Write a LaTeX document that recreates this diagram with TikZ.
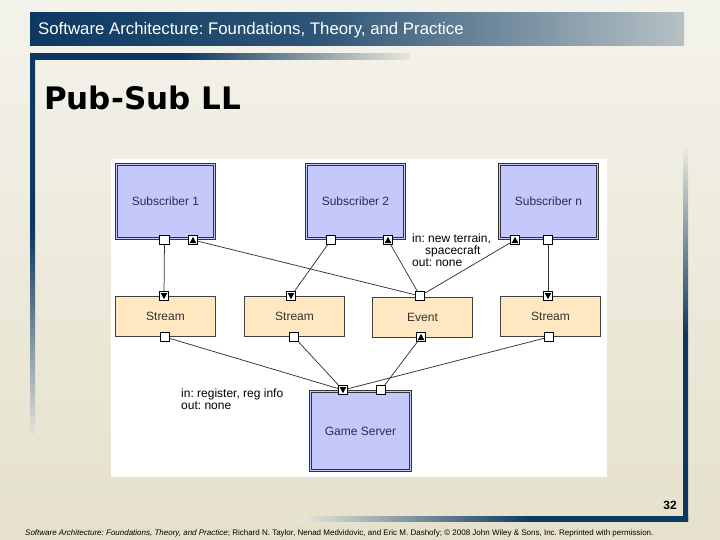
\documentclass[tikz,border=0pt]{standalone}
\usepackage{fontspec}
\setmainfont{Liberation Sans}
\newfontfamily\titlefont{DejaVu Sans}
\frenchspacing

\definecolor{cream}{HTML}{F4F3EB}
\definecolor{sand}{HTML}{E5E1CC}
\definecolor{navy}{HTML}{0D3861}
\definecolor{steel}{HTML}{B6C1C5}
\definecolor{headmid}{HTML}{2E5577}
\definecolor{barfade}{HTML}{E9E7DA}
\definecolor{compblue}{HTML}{C5C8FA}
\definecolor{connpeach}{HTML}{FEE7C1}
\definecolor{inkblue}{HTML}{2B2C52}
\definecolor{wirecol}{HTML}{333333}

% shadings: pgf maps 25bp..75bp onto the shaded path
\pgfdeclarehorizontalshading{headerbar}{100bp}{color(0bp)=(navy); color(25bp)=(navy); color(47bp)=(headmid); color(75bp)=(steel); color(100bp)=(steel)}
\pgfdeclarehorizontalshading{fadeleft}{100bp}{color(0bp)=(navy); color(45bp)=(navy); color(75bp)=(barfade); color(100bp)=(barfade)}
\pgfdeclarehorizontalshading{faderight}{100bp}{color(0bp)=(barfade); color(25bp)=(barfade); color(55bp)=(navy); color(100bp)=(navy)}
\pgfdeclareverticalshading{fadedown}{100bp}{color(0bp)=(navy); color(50bp)=(navy); color(75bp)=(barfade); color(100bp)=(barfade)}
\pgfdeclareverticalshading{fadeup}{100bp}{color(0bp)=(barfade); color(25bp)=(barfade); color(52bp)=(navy); color(100bp)=(navy)}

\begin{document}
\begin{tikzpicture}[x=1pt, y=-1pt,
  comp/.style={rectangle, draw=black!80, fill=compblue, double=compblue,
    double distance=1.6pt, line width=0.8pt, minimum width=98pt,
    minimum height=74pt, text=inkblue, font=\fontsize{12}{12}\selectfont},
  conn/.style={rectangle, draw=black!75, fill=connpeach, line width=0.6pt,
    minimum width=100pt, minimum height=40pt, text=black!80,
    font=\fontsize{12}{12}\selectfont},
  port/.style={rectangle, draw=black, fill=white, line width=0.6pt,
    minimum size=9.5pt, inner sep=0pt},
  upport/.style={port, path picture={\fill[black, shift={(path picture bounding box.center)}]
    (-3.3pt,-3pt) -- (3.3pt,-3pt) -- (0pt,3.2pt) -- cycle;}},
  downport/.style={port, path picture={\fill[black, shift={(path picture bounding box.center)}]
    (-3.3pt,3pt) -- (3.3pt,3pt) -- (0pt,-3.2pt) -- cycle;}},
  wire/.style={draw=wirecol, line width=0.75pt},
  note/.style={align=left, inner sep=0pt, font=\fontsize{12}{12}\selectfont}]
\useasboundingbox (0,0) rectangle (720,540);

% slide background
\shade[top color=cream, bottom color=sand] (0,0) rectangle (720,540);

% header and frame bars
\shade[shading=headerbar] (30,13) rectangle (684,46);
\node[anchor=base west, inner sep=0pt, text=white, font=\fontsize{16.8}{17}\selectfont] (header) at (38,35)
  {Software Architecture: Foundations, Theory, and Practice};
\shade[shading=fadeleft] (30,54) rectangle (410,60);
\shade[shading=fadeup] (30,54) rectangle (35,440);
\shade[shading=fadedown] (683,150) rectangle (688,521);
\shade[shading=faderight] (300,516) rectangle (688,521);

% title
\node[anchor=base west, inner sep=0pt, font=\titlefont\bfseries\fontsize{31}{31}\selectfont]
  (title) at (44,110) {Pub-Sub LL};

% diagram panel
\fill[white] (111,159) rectangle (607,477);

% components
\node[comp] (sub1) at (165.5,201.5) {Subscriber 1};
\node[comp] (sub2) at (355.5,201.5) {Subscriber 2};
\node[comp] (subn) at (548.5,201.5) {Subscriber n};
\node[comp, minimum width=100pt, minimum height=79pt] (server) at (360.5,431) {Game Server};

% connectors
\node[conn] (st1) at (165.5,316.5) {Stream};
\node[conn] (st2) at (294.5,316.5) {Stream};
\node[conn] (event) at (422.5,317) {Event};
\node[conn] (st4) at (550.5,316.5) {Stream};

% ports
\node[port] (s1out) at (164.5,240) {};
\node[upport] (s1pub) at (193,240) {};
\node[port] (s2out) at (331,240) {};
\node[upport] (s2pub) at (388,240) {};
\node[upport] (snpub) at (515,240) {};
\node[port] (snout) at (548,240) {};
\node[downport] (st1in) at (164,296) {};
\node[port] (st1out) at (165,337) {};
\node[downport] (st2in) at (291,296) {};
\node[port] (st2out) at (294,337) {};
\node[port] (evin) at (420,296) {};
\node[upport] (evout) at (421,337) {};
\node[downport] (st4in) at (548,296) {};
\node[port] (st4out) at (549,337) {};
\node[downport] (gsin) at (343,390) {};
\node[port] (gsev) at (381,390) {};

% links
\draw[wire] (s1out) -- (st1in);
\draw[wire] (s1pub) -- (evin);
\draw[wire] (s2out) -- (st2in);
\draw[wire] (s2pub) -- (evin);
\draw[wire] (snpub) -- (evin);
\draw[wire] (snout) -- (st4in);
\draw[wire] (st1out) -- (gsin);
\draw[wire] (st2out) -- (gsin);
\draw[wire] (st4out) -- (gsin);
\draw[wire] (evout) -- (gsev);

% interface notes
\node[note, anchor=north west] (evnote) at (412,234)
  {in: new terrain,\\\hspace*{13pt}spacecraft\\out: none};
\node[note, anchor=north west] (gsnote) at (181,389)
  {in: register, reg info\\out: none};

% page number and credit
\node[anchor=base east, inner sep=0pt, font=\bfseries\fontsize{12}{12}\selectfont]
  (pagenum) at (677,509) {32};
\node[anchor=base west, inner sep=0pt, font=\fontsize{8}{9}\selectfont] (credit) at (25,535)
  {\textit{Software Architecture: Foundations, Theory, and Practice}; Richard N. Taylor, Nenad Medvidovic, and Eric M. Dashofy; \textcopyright{} 2008 John Wiley \& Sons, Inc. Reprinted with permission.};
\end{tikzpicture}
\end{document}
